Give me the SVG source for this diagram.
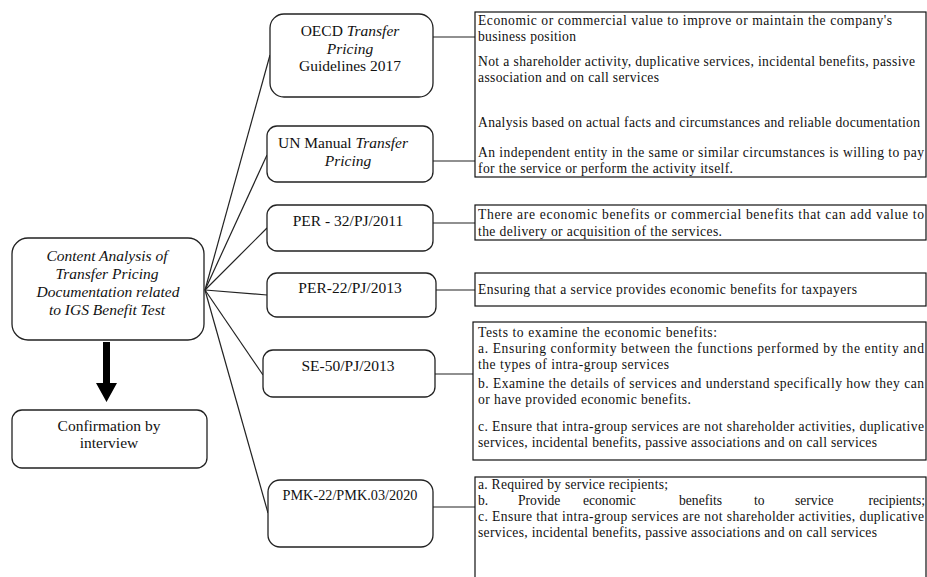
<svg xmlns="http://www.w3.org/2000/svg" width="927" height="577" viewBox="0 0 927 577">
<style>
.node{fill:#fff;stroke:#222;stroke-width:1.3}
.desc{fill:#fff;stroke:#111;stroke-width:1.2}
.lbl{font-family:'Liberation Serif','Times New Roman','DejaVu Serif',serif;font-size:15.5px;fill:#111;text-anchor:middle}
.it{font-style:italic}
.txt{font-family:'Liberation Serif','Times New Roman','DejaVu Serif',serif;font-size:13.6px;fill:#111}
.conn{stroke:#222;stroke-width:1.2;fill:none}
</style>
<rect width="927" height="577" fill="#fff"/>
<g id="connectors">
<line class="conn" x1="205" y1="290" x2="270" y2="55"/>
<line class="conn" x1="205" y1="290" x2="267" y2="155"/>
<line class="conn" x1="205" y1="290" x2="267" y2="228"/>
<line class="conn" x1="205" y1="290" x2="267" y2="295"/>
<line class="conn" x1="205" y1="290" x2="263" y2="375"/>
<line class="conn" x1="205" y1="290" x2="268" y2="513"/>
<line class="conn" x1="433" y1="37" x2="475" y2="37"/>
<line class="conn" x1="433" y1="161" x2="475" y2="161"/>
<line class="conn" x1="433" y1="223" x2="475" y2="223"/>
<line class="conn" x1="436" y1="290" x2="475" y2="290"/>
<line class="conn" x1="435" y1="374" x2="473" y2="374"/>
<line class="conn" x1="433" y1="507" x2="475" y2="507"/>
<polygon points="103,342 110,342 110,383 117,383 106.5,402 96,383 103,383" fill="#000"/>
</g>
<g id="main">
<rect class="node" x="12" y="238" width="192" height="102" rx="16"/>
<text class="lbl it" x="107" y="261">Content Analysis of</text>
<text class="lbl it" x="107" y="279">Transfer Pricing</text>
<text class="lbl it" x="108" y="297">Documentation related</text>
<text class="lbl it" x="107" y="315">to IGS Benefit Test</text>
</g>
<g id="confirmation">
<rect class="node" x="12" y="410" width="195" height="58" rx="10"/>
<text class="lbl" x="109" y="431">Confirmation by</text>
<text class="lbl" x="109" y="448">interview</text>
</g>
<g id="oecd">
<rect class="node" x="270" y="14" width="163" height="83" rx="14"/>
<text class="lbl" x="350" y="36">OECD <tspan class="it">Transfer</tspan></text>
<text class="lbl it" x="350" y="54">Pricing</text>
<text class="lbl" x="350" y="71">Guidelines 2017</text>
</g>
<g id="un">
<rect class="node" x="267" y="126" width="166" height="56" rx="10"/>
<text class="lbl" x="343" y="148">UN Manual <tspan class="it">Transfer</tspan></text>
<text class="lbl it" x="348" y="166">Pricing</text>
</g>
<g id="per32">
<rect class="node" x="267" y="205" width="166" height="46" rx="10"/>
<text class="lbl" x="348" y="226">PER - 32/PJ/2011</text>
</g>
<g id="per22">
<rect class="node" x="267" y="273" width="169" height="44" rx="10"/>
<text class="lbl" x="350" y="293">PER-22/PJ/2013</text>
</g>
<g id="se50">
<rect class="node" x="263" y="350" width="172" height="47" rx="10"/>
<text class="lbl" x="348" y="371">SE-50/PJ/2013</text>
</g>
<g id="pmk">
<rect class="node" x="268" y="480" width="165" height="67" rx="12"/>
<text class="lbl" x="350" y="500" textLength="135" lengthAdjust="spacingAndGlyphs">PMK-22/PMK.03/2020</text>
</g>
<g id="desc-oecd-un">
<rect class="desc" x="475" y="12" width="451" height="165"/>
<text class="txt" x="478" y="25" textLength="414" lengthAdjust="spacing">Economic or commercial value to improve or maintain the company's</text>
<text class="txt" x="478" y="41" textLength="98" lengthAdjust="spacing">business position</text>
<text class="txt" x="478" y="66" textLength="437" lengthAdjust="spacing">Not a shareholder activity, duplicative services, incidental benefits, passive</text>
<text class="txt" x="478" y="82" textLength="181" lengthAdjust="spacing">association and on call services</text>
<text class="txt" x="478" y="127" textLength="442" lengthAdjust="spacing">Analysis based on actual facts and circumstances and reliable documentation</text>
<text class="txt" x="478" y="157" textLength="446" lengthAdjust="spacing">An independent entity in the same or similar circumstances is willing to pay</text>
<text class="txt" x="478" y="173" textLength="255" lengthAdjust="spacing">for the service or perform the activity itself.</text>
</g>
<g id="desc-per32">
<rect class="desc" x="475" y="205" width="451" height="35"/>
<text class="txt" x="478" y="219" textLength="446" lengthAdjust="spacing">There are economic benefits or commercial benefits that can add value to</text>
<text class="txt" x="478" y="236" textLength="244" lengthAdjust="spacing">the delivery or acquisition of the services.</text>
</g>
<g id="desc-per22">
<rect class="desc" x="475" y="273" width="451" height="33"/>
<text class="txt" x="478" y="294" textLength="379" lengthAdjust="spacing">Ensuring that a service provides economic benefits for taxpayers</text>
</g>
<g id="desc-se50">
<rect class="desc" x="473" y="322" width="453" height="138"/>
<text class="txt" x="478" y="337" textLength="239" lengthAdjust="spacing">Tests to examine the economic benefits:</text>
<text class="txt" x="478" y="353" textLength="446" lengthAdjust="spacing">a. Ensuring conformity between the functions performed by the entity and</text>
<text class="txt" x="478" y="369" textLength="191" lengthAdjust="spacing">the types of intra-group services</text>
<text class="txt" x="478" y="388" textLength="446" lengthAdjust="spacing">b. Examine the details of services and understand specifically how they can</text>
<text class="txt" x="478" y="404" textLength="213" lengthAdjust="spacing">or have provided economic benefits.</text>
<text class="txt" x="478" y="431" textLength="446" lengthAdjust="spacing">c. Ensure that intra-group services are not shareholder activities, duplicative</text>
<text class="txt" x="478" y="447" textLength="399" lengthAdjust="spacing">services, incidental benefits, passive associations and on call services</text>
</g>
<g id="desc-pmk">
<rect class="desc" x="475" y="477" width="451" height="115"/>
<text class="txt" x="478" y="489" textLength="190" lengthAdjust="spacing">a. Required by service recipients;</text>
<text class="txt" x="478" y="505">b.</text>
<text class="txt" x="518" y="505">Provide</text>
<text class="txt" x="583" y="505">economic</text>
<text class="txt" x="679" y="505">benefits</text>
<text class="txt" x="754" y="505">to</text>
<text class="txt" x="795" y="505">service</text>
<text class="txt" x="925" y="505" text-anchor="end">recipients;</text>
<text class="txt" x="478" y="521" textLength="446" lengthAdjust="spacing">c. Ensure that intra-group services are not shareholder activities, duplicative</text>
<text class="txt" x="478" y="537" textLength="399" lengthAdjust="spacing">services, incidental benefits, passive associations and on call services</text>
</g>
</svg>
